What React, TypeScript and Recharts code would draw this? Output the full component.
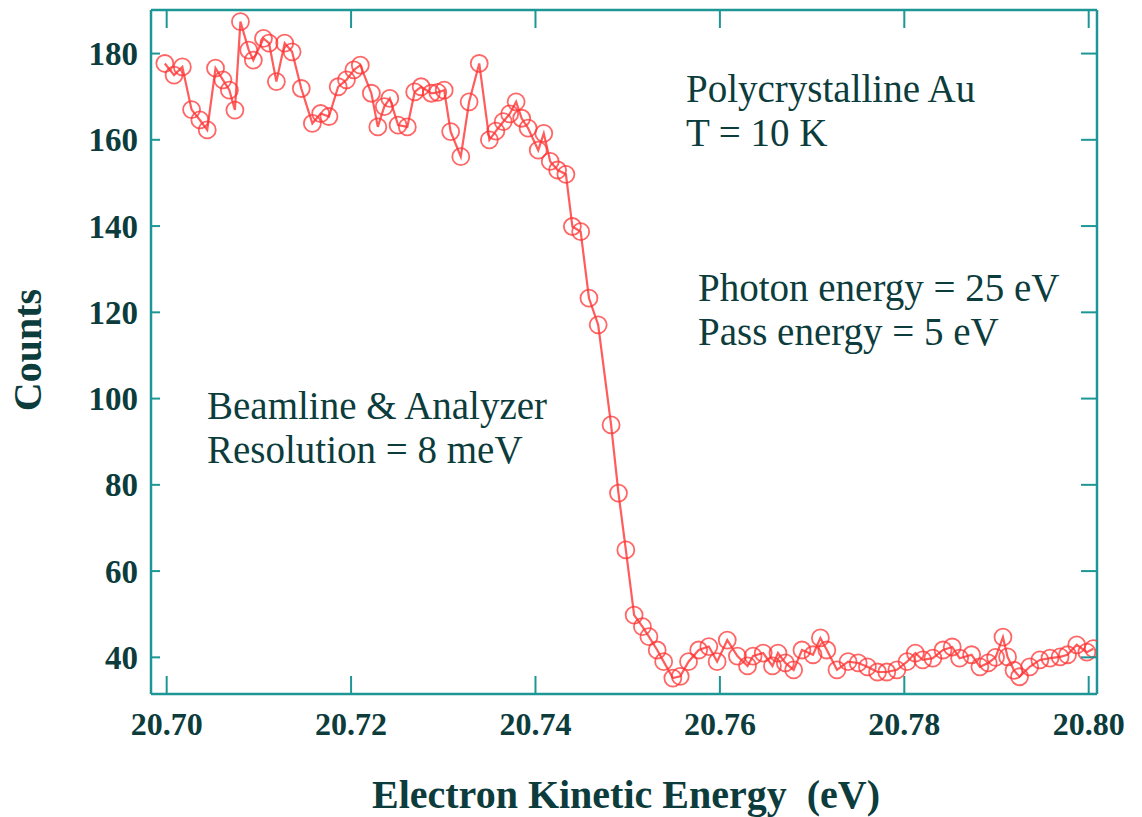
import React from "react";
import { LineChart, Line, XAxis, YAxis } from "recharts";

const energy: number[] = [
  20.6998, 20.7008, 20.7017, 20.7027, 20.7036, 20.7044, 20.7053, 20.7061, 20.7068, 20.7074,
  20.708, 20.7089, 20.7094, 20.7105, 20.7111, 20.7119, 20.7128, 20.7136, 20.7146, 20.7158,
  20.7167, 20.7176, 20.7186, 20.7195, 20.7203, 20.721, 20.7222, 20.7229, 20.7236, 20.7242,
  20.7251, 20.7261, 20.7269, 20.7276, 20.7287, 20.7294, 20.7301, 20.7308, 20.7319, 20.7328,
  20.7339, 20.735, 20.7357, 20.7365, 20.7372, 20.7379, 20.7385, 20.7392, 20.7403, 20.7409,
  20.7416, 20.7424, 20.7433, 20.744, 20.7449, 20.7458, 20.7468, 20.7482, 20.749, 20.7498,
  20.7507, 20.7516, 20.7523, 20.7532, 20.7539, 20.7549, 20.7557, 20.7566, 20.7577, 20.7588,
  20.7597, 20.7608, 20.7619, 20.763, 20.7636, 20.7647, 20.7657, 20.7663, 20.7671, 20.768,
  20.7689, 20.7701, 20.7709, 20.7716, 20.7727, 20.7739, 20.775, 20.776, 20.7771, 20.7781,
  20.7792, 20.7803, 20.7812, 20.782, 20.7831, 20.7842, 20.7852, 20.786, 20.7873, 20.7882,
  20.7891, 20.7899, 20.7907, 20.7912, 20.7919, 20.7925, 20.7936, 20.7947, 20.7958, 20.7969,
  20.7977, 20.7987, 20.7998, 20.8005,
];

const counts: number[] = [
  177.7, 175.0, 176.9, 167.0, 164.6, 162.3, 176.6, 173.9, 171.5, 166.9,
  187.4, 180.8, 178.5, 183.5, 182.4, 173.5, 182.4, 180.4, 171.9, 163.8,
  166.1, 165.4, 172.3, 173.9, 176.2, 177.3, 170.8, 163.0, 167.7, 169.6,
  163.4, 163.0, 171.1, 172.3, 170.8, 171.0, 171.5, 161.9, 156.1, 168.8,
  177.7, 160.0, 162.0, 164.2, 166.0, 168.8, 165.0, 162.7, 157.6, 161.5,
  155.0, 153.0, 152.0, 139.9, 138.7, 123.3, 117.1, 93.9, 78.1, 64.9,
  49.8, 47.1, 44.8, 41.7, 39.0, 35.2, 35.6, 39.0, 41.7, 42.5,
  39.0, 44.0, 40.3, 38.0, 40.3, 41.0, 38.0, 41.0, 38.7, 37.1,
  41.7, 40.6, 44.5, 41.7, 37.1, 39.0, 38.7, 37.8, 36.6, 36.6,
  37.1, 39.0, 41.0, 39.4, 39.8, 41.7, 42.4, 39.8, 40.6, 37.8,
  38.7, 40.0, 44.7, 40.1, 37.0, 35.5, 37.8, 39.4, 39.8, 40.1,
  40.6, 42.9, 41.2, 42.0,
];

const xTicks: number[] = [20.7, 20.72, 20.74, 20.76, 20.78, 20.8];
const xTickLabels: string[] = ["20.70", "20.72", "20.74", "20.76", "20.78", "20.80"];
const yTicks: number[] = [40, 60, 80, 100, 120, 140, 160, 180];

const data = energy.map((e, i) => ({ e, c: counts[i] }));

const FRAME = "#1e9696";
const TEXT = "#0c3c3c";
const RED = "#ff3333";
const SERIF = "'Liberation Serif', 'Times New Roman', serif";

const BottomTick = (props: any) => {
  const { x, y, payload } = props;
  const i = xTicks.indexOf(payload.value);
  const label = i >= 0 ? xTickLabels[i] : String(payload.value);
  return (
    <g>
      <line x1={x} y1={y} x2={x} y2={y - 18} stroke={FRAME} strokeWidth={2} />
      <text x={x} y={y + 41} textAnchor="middle" fontFamily={SERIF} fontWeight="bold" fontSize={32} fill={TEXT}>
        {label}
      </text>
    </g>
  );
};

const TopTick = (props: any) => {
  const { x, y } = props;
  return <line x1={x} y1={y} x2={x} y2={y + 18} stroke={FRAME} strokeWidth={2} />;
};

const LeftTick = (props: any) => {
  const { x, y, payload } = props;
  return (
    <g>
      <line x1={x} y1={y} x2={x + 9} y2={y} stroke={FRAME} strokeWidth={2} />
      <text x={x - 13} y={y + 11.5} textAnchor="end" fontFamily={SERIF} fontWeight="bold" fontSize={33} fill={TEXT}>
        {payload.value}
      </text>
    </g>
  );
};

const RightTick = (props: any) => {
  const { x, y } = props;
  return <line x1={x} y1={y} x2={x - 16} y2={y} stroke={FRAME} strokeWidth={2} />;
};

export default function App() {
  return (
    <div style={{ position: "absolute", left: 0, top: 0, width: 1142, height: 817, background: "#fff" }}>
      <LineChart
        width={1142}
        height={817}
        data={data}
        margin={{ top: 9, right: 44, bottom: 122, left: 150 }}
      >
        <XAxis
          xAxisId="b"
          dataKey="e"
          type="number"
          domain={[20.6983, 20.8009]}
          allowDataOverflow
          ticks={xTicks}
          orientation="bottom"
          height={1}
          tickSize={0}
          tickMargin={0}
          axisLine={{ stroke: FRAME, strokeWidth: 2.5 }}
          tickLine={false}
          tick={BottomTick}
          interval={0}
        />
        <XAxis
          xAxisId="t"
          dataKey="e"
          type="number"
          domain={[20.6983, 20.8009]}
          allowDataOverflow
          ticks={xTicks}
          orientation="top"
          height={1}
          tickSize={0}
          tickMargin={0}
          axisLine={{ stroke: FRAME, strokeWidth: 2.5 }}
          tickLine={false}
          tick={TopTick}
          interval={0}
        />
        <YAxis
          yAxisId="l"
          type="number"
          domain={[31.5, 190.1]}
          allowDataOverflow
          ticks={yTicks}
          orientation="left"
          width={1}
          tickSize={0}
          tickMargin={0}
          axisLine={{ stroke: FRAME, strokeWidth: 2.5 }}
          tickLine={false}
          tick={LeftTick}
          interval={0}
        />
        <YAxis
          yAxisId="r"
          type="number"
          domain={[31.5, 190.1]}
          allowDataOverflow
          ticks={yTicks}
          orientation="right"
          width={1}
          tickSize={0}
          tickMargin={0}
          axisLine={{ stroke: FRAME, strokeWidth: 2.5 }}
          tickLine={false}
          tick={RightTick}
          interval={0}
        />
        <Line
          xAxisId="b"
          yAxisId="l"
          type="linear"
          dataKey="c"
          stroke={RED}
          strokeOpacity={0.8}
          strokeWidth={2.2}
          dot={{ r: 8.5, stroke: RED, strokeOpacity: 0.75, strokeWidth: 1.8, fill: "none" }}
          isAnimationActive={false}
        />
      </LineChart>
      <svg
        width={1142}
        height={817}
        style={{ position: "absolute", left: 0, top: 0, pointerEvents: "none" }}
      >
        <g fontFamily={SERIF} fontSize={39} fill={TEXT}>
          <text x={686} y={102}>Polycrystalline Au</text>
          <text x={686} y={146}>T = 10 K</text>
          <text x={698} y={301}>Photon energy = 25 eV</text>
          <text x={698} y={345}>Pass energy = 5 eV</text>
          <text x={207} y={419}>Beamline &amp; Analyzer</text>
          <text x={207} y={463}>Resolution = 8 meV</text>
        </g>
        <text
          x={626}
          y={808}
          textAnchor="middle"
          fontFamily={SERIF}
          fontWeight="bold"
          fontSize={40}
          fill={TEXT}
          style={{ whiteSpace: "pre" }}
        >
          {"Electron Kinetic Energy  (eV)"}
        </text>
        <text
          x={0}
          y={0}
          transform="translate(41 350) rotate(-90)"
          textAnchor="middle"
          fontFamily={SERIF}
          fontWeight="bold"
          fontSize={40}
          fill={TEXT}
        >
          Counts
        </text>
      </svg>
    </div>
  );
}
